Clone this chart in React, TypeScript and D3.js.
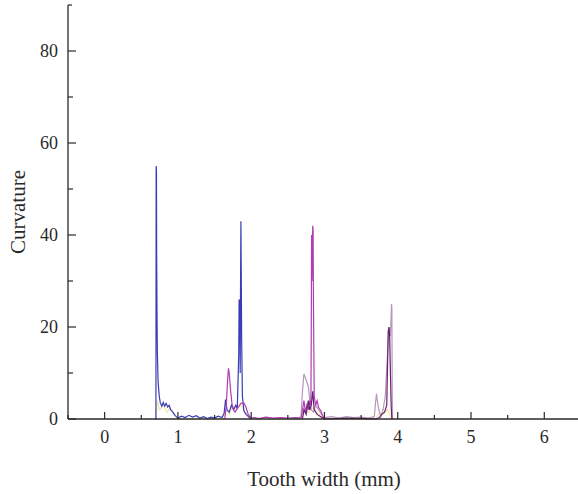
import { useEffect, useRef } from 'react';
import * as d3 from 'd3';

// tick values
const xTicks = [0, 1, 2, 3, 4, 5, 6];
const xMinorTicks = [-0.5, 0.5, 1.5, 2.5, 3.5, 4.5, 5.5, 6.5];
const yTicks = [0, 20, 40, 60, 80];
const yMinorTicks = [10, 30, 50, 70];

// curvature profiles: [tooth width, curvature]
const blueSeries: [number, number][] = [
  [0.69, 0], [0.7, 0], [0.703, 55], [0.707, 54], [0.71, 36], [0.715, 22], [0.72, 14], [0.73, 8],
  [0.745, 5], [0.76, 3.5], [0.78, 2.8], [0.8, 3.6], [0.82, 2.8], [0.84, 3.4], [0.86, 2.6], [0.88, 3.0],
  [0.9, 2.0], [0.93, 1.5], [0.96, 0.8], [1.0, 0.2], [1.05, 0.6], [1.1, 0.3], [1.15, 0.8], [1.2, 0.4],
  [1.25, 0.7], [1.3, 0.2], [1.35, 0.5], [1.4, 0.1], [1.45, 0.4], [1.5, 0.2], [1.55, 0.6], [1.6, 0.3],
  [1.63, 1.2], [1.65, 4.2], [1.67, 2.0], [1.7, 1.5], [1.73, 3.0], [1.76, 2.0], [1.79, 3.0], [1.81, 2.2],
  [1.83, 14], [1.835, 26], [1.845, 25], [1.85, 10], [1.855, 30], [1.86, 43], [1.865, 30], [1.87, 17],
  [1.88, 5], [1.9, 1.8], [1.93, 1.0], [1.97, 0.4], [2.0, 0],
];

const magentaSeries: [number, number][] = [
  [1.64, 0], [1.66, 3], [1.68, 9], [1.69, 11], [1.7, 10], [1.72, 6], [1.74, 3], [1.76, 2], [1.78, 1.5],
  [1.82, 2.5], [1.86, 3.4], [1.9, 3.5], [1.93, 2.5], [1.96, 1], [2.0, 0.2], [2.05, 0.3], [2.1, 0.1],
  [2.2, 0.4], [2.3, 0.2], [2.4, 0.3], [2.5, 0.2], [2.6, 0.3], [2.68, 0.2], [2.7, 2], [2.72, 4],
  [2.74, 1.5], [2.76, 3], [2.78, 2], [2.8, 4], [2.815, 3], [2.82, 20], [2.825, 40], [2.83, 30],
  [2.835, 38], [2.84, 42], [2.845, 41], [2.85, 25], [2.86, 5], [2.88, 3], [2.9, 4], [2.92, 2.5],
  [2.95, 1.8], [2.98, 0.5], [3.0, 0],
];

const lilacSeries: [number, number][] = [
  [2.6, 0], [2.68, 0.5], [2.7, 6], [2.72, 9.8], [2.74, 9], [2.76, 8], [2.78, 7], [2.8, 4], [2.82, 2],
  [2.85, 1.5], [2.88, 3], [2.92, 2], [2.96, 1], [3.0, 0.3], [3.1, 0.5], [3.2, 0.2], [3.3, 0.5],
  [3.4, 0.3], [3.5, 0.4], [3.6, 0.2], [3.68, 0.5], [3.7, 4], [3.71, 5.5], [3.73, 3], [3.75, 1.5],
  [3.77, 0.5], [3.8, 2], [3.83, 5], [3.86, 14], [3.88, 20], [3.9, 18], [3.915, 25], [3.92, 24],
  [3.925, 5], [3.93, 0],
];

const plumSeries: [number, number][] = [
  [2.7, 0], [2.72, 2], [2.75, 1], [2.78, 4], [2.8, 2], [2.82, 3], [2.84, 6], [2.86, 2], [2.9, 1],
  [2.95, 0.5], [3.0, 0], [3.3, 0.2], [3.6, 0.1], [3.7, 0], [3.75, 0.3], [3.78, 1], [3.82, 1.5],
  [3.85, 3], [3.87, 19], [3.88, 20], [3.89, 18], [3.9, 10], [3.91, 3], [3.92, 0],
];

const yellowSeries: [number, number][] = [
  [0.7, 0], [0.72, 4], [0.75, 2], [0.8, 3], [0.85, 1.5], [0.9, 2.5], [0.95, 1], [1.0, 0],
  [1.62, 0], [1.66, 2], [1.7, 1], [1.75, 3], [1.8, 2], [1.86, 3], [1.92, 1.5], [1.98, 0],
  [2.68, 0], [2.72, 2], [2.78, 1.5], [2.85, 2.5], [2.92, 1], [2.98, 0],
  [3.7, 0], [3.75, 1.5], [3.8, 1], [3.86, 2], [3.92, 0],
];

const series = [
  { data: yellowSeries, color: '#f2e8a8' },
  { data: lilacSeries, color: '#b49ab8' },
  { data: blueSeries, color: '#3b3bb8' },
  { data: magentaSeries, color: '#b03cb6' },
  { data: plumSeries, color: '#6a1f72' },
];

export default function App() {
  const svgRef = useRef<SVGSVGElement>(null);

  useEffect(() => {
    const W = 578;
    const H = 494;
    const left = 68;
    const top = 5;
    const bottom = 419;

    const svg = d3.select(svgRef.current);
    svg.selectAll('*').remove();
    svg.attr('width', W).attr('height', H);

    const x = d3.scaleLinear().domain([-0.5, 6.46]).range([left, W]);
    const y = d3.scaleLinear().domain([0, 90]).range([bottom, top]);

    const line = d3.line<[number, number]>()
      .x(d => x(d[0]))
      .y(d => y(d[1]));

    series.forEach(s => {
      svg.append('path')
        .datum(s.data)
        .attr('fill', 'none')
        .attr('stroke', s.color)
        .attr('stroke-width', 1.2)
        .attr('d', line);
    });

    const font = "'Liberation Serif', 'DejaVu Serif', serif";
    const ink = '#2a2a2a';

    // X axis
    const gx = svg.append('g').attr('transform', `translate(0,${bottom})`);
    gx.append('line').attr('x1', left).attr('x2', W).attr('stroke', ink).attr('stroke-width', 1.3);
    gx.selectAll('.maj').data(xTicks).enter().append('line')
      .attr('x1', d => x(d)).attr('x2', d => x(d)).attr('y1', 0).attr('y2', -7)
      .attr('stroke', ink).attr('stroke-width', 1.2);
    gx.selectAll('.min').data(xMinorTicks).enter().append('line')
      .attr('x1', d => x(d)).attr('x2', d => x(d)).attr('y1', 0).attr('y2', -4)
      .attr('stroke', ink).attr('stroke-width', 1.2);
    gx.selectAll('.lbl').data(xTicks).enter().append('text')
      .attr('x', d => x(d)).attr('y', 24)
      .attr('text-anchor', 'middle')
      .style('font-family', font).style('font-size', '18px').attr('fill', ink)
      .text(d => d);

    // Y axis
    const gy = svg.append('g').attr('transform', `translate(${left},0)`);
    gy.append('line').attr('y1', top).attr('y2', bottom).attr('stroke', ink).attr('stroke-width', 1.3);
    gy.selectAll('.maj').data(yTicks).enter().append('line')
      .attr('y1', d => y(d)).attr('y2', d => y(d)).attr('x1', 0).attr('x2', 8)
      .attr('stroke', ink).attr('stroke-width', 1.2);
    gy.selectAll('.min').data(yMinorTicks).enter().append('line')
      .attr('y1', d => y(d)).attr('y2', d => y(d)).attr('x1', 0).attr('x2', 5)
      .attr('stroke', ink).attr('stroke-width', 1.2);
    gy.append('line').attr('y1', top).attr('y2', top).attr('x1', 0).attr('x2', 4)
      .attr('stroke', ink).attr('stroke-width', 1.2);
    gy.selectAll('.lbl').data(yTicks).enter().append('text')
      .attr('x', -10).attr('y', d => y(d)).attr('dy', '0.35em')
      .attr('text-anchor', 'end')
      .style('font-family', font).style('font-size', '18px').attr('fill', ink)
      .text(d => d);

    // Titles
    svg.append('text')
      .attr('x', 324).attr('y', 486)
      .attr('text-anchor', 'middle')
      .style('font-family', font).style('font-size', '21px').attr('fill', ink)
      .text('Tooth width (mm)');

    svg.append('text')
      .attr('transform', `translate(25,${(top + bottom) / 2}) rotate(-90)`)
      .attr('text-anchor', 'middle')
      .style('font-family', font).style('font-size', '21px').attr('fill', ink)
      .text('Curvature');
  }, []);

  return (
    <div style={{ position: 'absolute', left: 0, top: 0 }}>
      <svg ref={svgRef}></svg>
    </div>
  );
}
